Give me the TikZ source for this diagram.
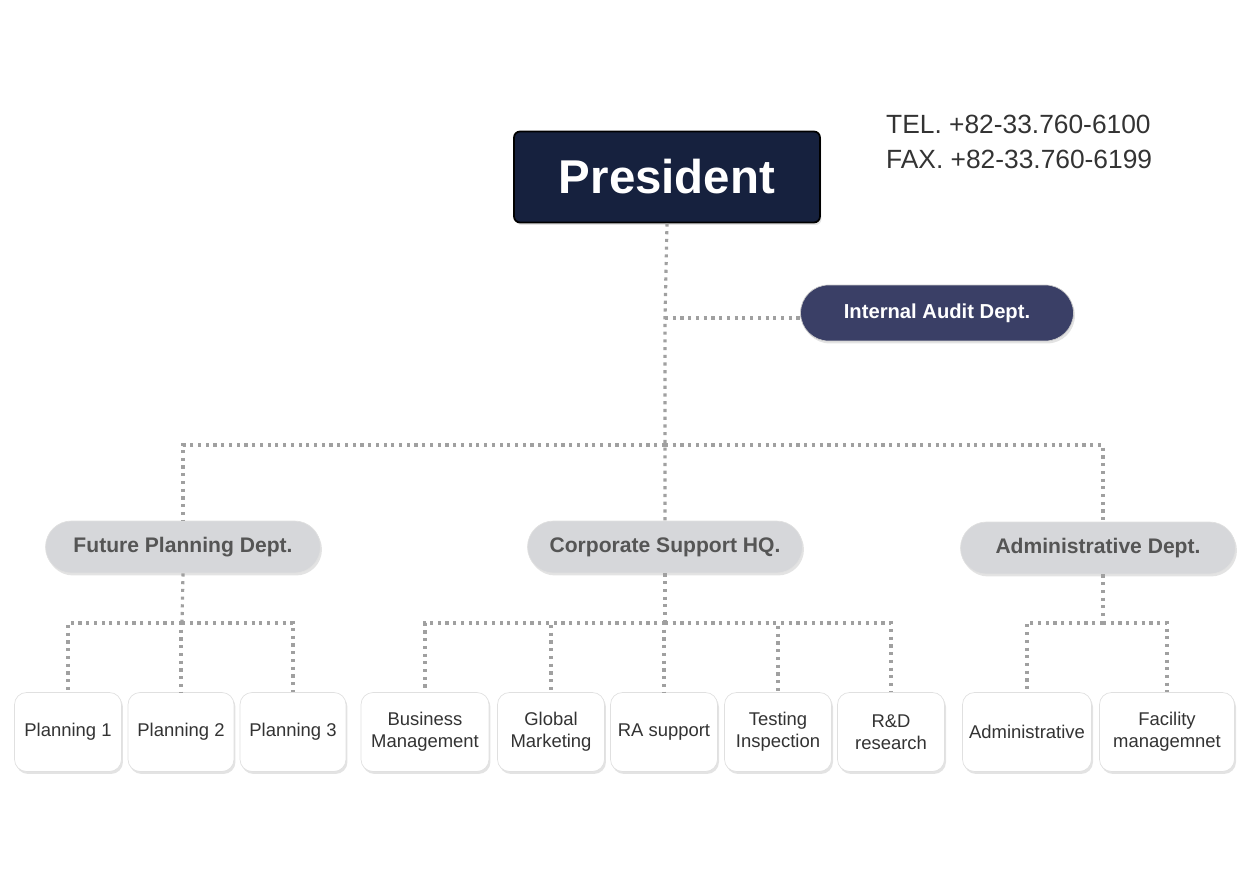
\documentclass[tikz,border=0pt]{standalone}
\usepackage{fontspec}
\setmainfont{Liberation Sans}
\usetikzlibrary{shadows}
\definecolor{navy}{HTML}{16213E}
\definecolor{auditblue}{HTML}{3A3F66}
\definecolor{deptgray}{HTML}{D6D7DA}
\definecolor{linkgray}{HTML}{A0A0A0}
\definecolor{darktext}{HTML}{333333}
\definecolor{depttext}{HTML}{555555}
\begin{document}
\begin{tikzpicture}[x=0.02cm,y=-0.02cm,
  link/.style={draw=linkgray,line width=1.8pt,dash pattern=on 1.8pt off 2.6pt},
  softshadow/.style={drop shadow={opacity=0.22,shadow xshift=0.03cm,shadow yshift=-0.05cm}},
  dept/.style={fill=deptgray,draw=black!12,rounded corners=0.52cm,minimum width=5.5cm,
    minimum height=1.04cm,text=depttext,font=\fontsize{12}{14}\selectfont\bfseries,softshadow},
  unit/.style={fill=white,draw=black!12,rounded corners=0.24cm,minimum height=1.58cm,
    align=center,text=darktext,font=\fontsize{10.5}{12.5}\selectfont,softshadow}]
\useasboundingbox (0,0) rectangle (1260,891);
% top
\node[fill=navy,draw=black,line width=1pt,rounded corners=0.12cm,minimum width=6.12cm,
  minimum height=1.82cm,text=white,font=\fontsize{27}{32}\selectfont\bfseries,softshadow]
  (pres) at (667,177) {President};
\node[anchor=west,align=left,text=darktext,font=\fontsize{15}{20}\selectfont]
  (contact) at (880,142) {TEL. +82-33.760-6100\\FAX. +82-33.760-6199};
\node[fill=auditblue,draw=black!20,rounded corners=0.56cm,minimum width=5.46cm,minimum height=1.12cm,
  text=white,font=\fontsize{11.5}{14}\selectfont\bfseries,softshadow] (audit) at (937,313) {Internal Audit Dept.};
% departments
\node[dept] (fp) at (183,547) {Future Planning Dept.};
\node[dept] (cs) at (665,547) {Corporate Support HQ.};
\node[dept] (ad) at (1098,548) {Administrative Dept.};
% units
\foreach \x/\w/\txt [count=\i] in {68/2.14/Planning 1,181/2.12/Planning 2,293/2.12/Planning 3,
  425/2.56/{Business\\Management},551/2.14/{Global\\Marketing},664/2.14/RA support,
  778/2.14/{Testing\\Inspection},891/2.14/{R\&D\\research},1027/2.58/Administrative,
  1167/2.7/{Facility\\managemnet}}
  \node[unit,minimum width=\w cm] (u\i) at (\x,732) {\txt};
% connectors
\coordinate (pj) at (665,318);
\coordinate (hj) at (665,445);
\coordinate (fpj) at (182,623);
\coordinate (csj) at (665,623);
\coordinate (adj) at (1103,623);
\draw[link] (pres.south) -- (pj) -- (cs.north);
\draw[link] (pj) -- (audit.west |- pj);
\draw[link] (hj) -| (fp.north);
\draw[link] (hj) -| (ad.north -| adj);
\draw[link] (fp.south) -- (fpj);
\draw[link] (cs.south) -- (csj);
\draw[link] (ad.south -| adj) -- (adj);
\foreach \i in {1,2,3}
  \draw[link] (fpj) -| (u\i.north);
\foreach \i in {4,...,8}
  \draw[link] (csj) -| (u\i.north);
\foreach \i in {9,10}
  \draw[link] (adj) -| (u\i.north);
\end{tikzpicture}
\end{document}
